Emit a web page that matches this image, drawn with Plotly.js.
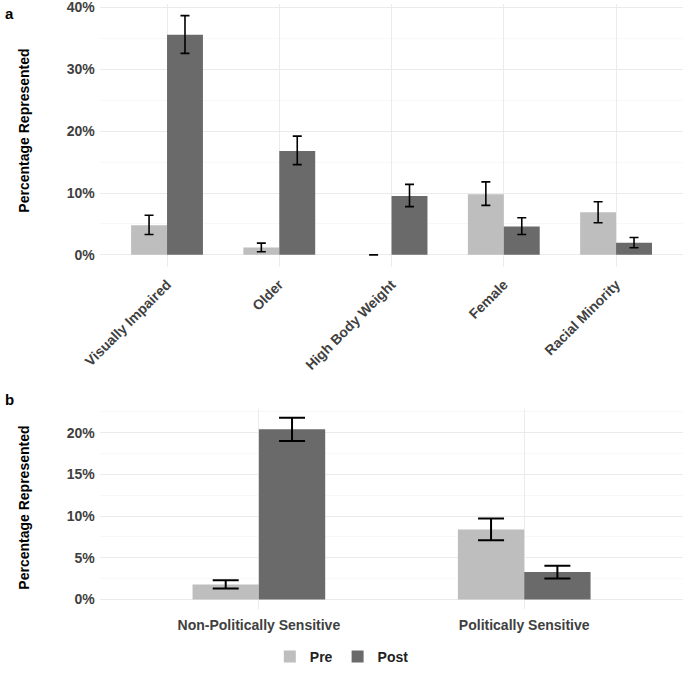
<!DOCTYPE html>
<html>
<head>
<meta charset="utf-8">
<script src="https://cdn.plot.ly/plotly-3.0.1.min.js"></script>
<style>
html,body{margin:0;padding:0;background:#fff;}
#chart{width:685px;height:673px;}
</style>
</head>
<body>
<div id="chart"></div>
<script>
// Panel a data (percent)
var catsA = ["Visually Impaired", "Older", "High Body Weight", "Female", "Racial Minority"];
var preA = [4.8, 1.2, 0, 9.8, 6.9];
var preAHi = [6.4, 1.9, 0, 11.8, 8.6];
var preALo = [3.3, 0.5, 0, 8.0, 5.2];
var postA = [35.6, 16.8, 9.5, 4.6, 1.95];
var postAHi = [38.7, 19.2, 11.4, 6.0, 2.8];
var postALo = [32.6, 14.6, 7.8, 3.3, 1.15];

// Panel b data (percent)
var catsB = ["Non-Politically Sensitive", "Politically Sensitive"];
var preB = [1.8, 8.4];
var preBHi = [2.3, 9.7];
var preBLo = [1.3, 7.1];
var postB = [20.4, 3.3];
var postBHi = [21.8, 4.05];
var postBLo = [19.0, 2.5];

var seriesNames = ["Pre", "Post"];

var PRE_COLOR = "#bebebe";
var POST_COLOR = "#6a6a6a";
var FONT = "Liberation Sans, Arial, sans-serif";

function plus(hi, v){ return hi.map(function(h,i){ return h - v[i]; }); }
function minus(lo, v){ return lo.map(function(l,i){ return v[i] - l; }); }

function barTrace(name, cats, vals, hi, lo, color, xa, ya, show, capw, thick, w, off){
  return {
    type: "bar", name: name, x: cats, y: vals, xaxis: xa, yaxis: ya,
    width: w, offset: off,
    marker: {color: color, line: {width: 0}},
    legendgroup: name, showlegend: show,
    error_y: {type: "data", symmetric: false, array: plus(hi, vals), arrayminus: minus(lo, vals),
              color: "#000", thickness: thick, width: capw},
    hoverinfo: "skip"
  };
}

var data = [
  barTrace(seriesNames[0], catsA, preA, preAHi, preALo, PRE_COLOR, "x", "y", false, 4.5, 1.6, 0.32, -0.32),
  barTrace(seriesNames[1], catsA, postA, postAHi, postALo, POST_COLOR, "x", "y", false, 4.5, 1.6, 0.32, 0),
  barTrace(seriesNames[0], catsB, preB, preBHi, preBLo, PRE_COLOR, "x2", "y2", true, 13, 2, 0.25, -0.25),
  barTrace(seriesNames[1], catsB, postB, postBHi, postBLo, POST_COLOR, "x2", "y2", true, 13, 2, 0.25, 0)
];

function yRange(his){
  var m = Math.max.apply(null, his);
  return [-0.05*m, m*1.05];
}

var tickFont = {family: FONT, size: 14, color: "#404040", weight: "bold"};
var gridC = "#ebebeb";
var minorC = "#f3f3f3";

var layout = {
  width: 685, height: 673,
  margin: {l: 0, r: 0, t: 0, b: 0},
  paper_bgcolor: "#fff", plot_bgcolor: "#fff",
  font: {family: FONT, color: "#000"},
  barmode: "overlay",
  xaxis: {domain: [0.1455, 0.9977], anchor: "y", type: "category", range: [-0.6, 4.6],
          showgrid: true, gridcolor: gridC, gridwidth: 1, zeroline: false, showline: false,
          ticks: "", tickangle: -45, tickfont: tickFont, automargin: false,
          ticklabelstandoff: 6, ticklabeloverflow: "allow"},
  yaxis: {domain: [0.5994, 0.9945], anchor: "x", range: yRange(postAHi.concat(preAHi)),
          dtick: 10, tick0: 0, ticksuffix: "%", showgrid: true, gridcolor: gridC, gridwidth: 1,
          minor: {dtick: 5, tick0: 0, showgrid: true, gridcolor: minorC, gridwidth: 0.6},
          zeroline: false, showline: false, ticks: "", tickfont: tickFont, automargin: false,
          ticklabelstandoff: 4, ticklabeloverflow: "allow"},
  xaxis2: {domain: [0.1455, 0.9977], anchor: "y2", type: "category", range: [-0.6, 1.6],
          showgrid: true, gridcolor: gridC, gridwidth: 1, zeroline: false, showline: false,
          ticks: "", tickfont: tickFont, automargin: false,
          ticklabelstandoff: 6, ticklabeloverflow: "allow"},
  yaxis2: {domain: [0.0863, 0.3865], anchor: "x2", range: yRange(postBHi.concat(preBHi)),
          dtick: 5, tick0: 0, ticksuffix: "%", showgrid: true, gridcolor: gridC, gridwidth: 1,
          minor: {dtick: 2.5, tick0: 0, showgrid: true, gridcolor: minorC, gridwidth: 0.6},
          zeroline: false, showline: false, ticks: "", tickfont: tickFont, automargin: false,
          ticklabelstandoff: 4, ticklabeloverflow: "allow"},
  showlegend: true,
  legend: {orientation: "h", x: 0.499, xanchor: "center", y: 0.0134, yanchor: "middle",
           font: {family: FONT, size: 14, color: "#222", weight: "bold"}, traceorder: "normal",
           itemwidth: 30, bgcolor: "rgba(0,0,0,0)"},
  annotations: [
    {text: "<b>a</b>", x: 3/685, y: 1 - 14/673, xref: "paper", yref: "paper", xanchor: "left", yanchor: "middle",
     showarrow: false, font: {family: FONT, size: 15, color: "#000"}},
    {text: "<b>b</b>", x: 3/685, y: 1 - 404/673, xref: "paper", yref: "paper", xanchor: "left", yanchor: "middle",
     showarrow: false, font: {family: FONT, size: 15, color: "#000"}},
    {text: "<b>Percentage Represented</b>", x: 24/685, y: 1 - 132/673, xref: "paper", yref: "paper",
     xanchor: "center", yanchor: "middle", textangle: -90, showarrow: false,
     font: {family: FONT, size: 14, color: "#000"}},
    {text: "<b>Percentage Represented</b>", x: 24/685, y: 1 - 513/673, xref: "paper", yref: "paper",
     xanchor: "center", yanchor: "middle", textangle: -90, showarrow: false,
     font: {family: FONT, size: 14, color: "#000"}}
  ]
};

Plotly.newPlot("chart", data, layout, {displayModeBar: false, staticPlot: true});
</script>
</body>
</html>
